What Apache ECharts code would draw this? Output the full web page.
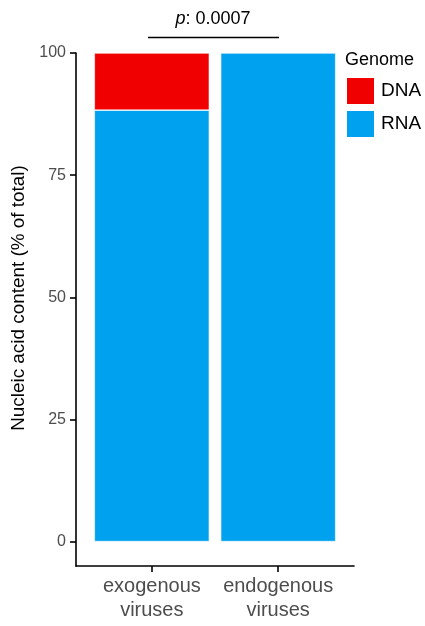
<!DOCTYPE html>
<html>
<head>
<meta charset="utf-8">
<script src="https://cdn.jsdelivr.net/npm/echarts@6/dist/echarts.min.js"></script>
<style>html,body{margin:0;padding:0;background:#fff}#c{width:425px;height:626px}</style>
</head>
<body>
<div id="c"></div>
<script>
const categories = ['exogenous\nviruses', 'endogenous\nviruses'];
const categoryPositions = [1, 2];
const rnaValues = [88.3, 100];
const dnaValues = [11.7, 0];
const yTicks = [0, 25, 50, 75, 100];
const pLabel = '0.0007';

const chart = echarts.init(document.getElementById('c'), null, {renderer: 'canvas'});
const FONT = '"Liberation Sans", Arial, Helvetica, sans-serif';

function seriesFor(name, values, color) {
  return {
    name: name, type: 'bar', stack: 'g', barWidth: 115,
    dimensions: ['value', 'pos'],
    encode: {x: 'pos', y: 'value'},
    itemStyle: {color: color, borderColor: '#fff', borderWidth: 0.6},
    data: categoryPositions.map((x, i) => [values[i], x])
  };
}

chart.setOption({
  animation: false,
  backgroundColor: '#fff',
  textStyle: {fontFamily: FONT},
  grid: {left: 76, right: 71, top: 53, bottom: 60},
  legend: {
    orient: 'vertical', left: 345, top: 76, padding: 0,
    data: ['DNA', 'RNA'], itemWidth: 29, itemHeight: 28, itemGap: 3,
    icon: 'rect',
    textStyle: {fontSize: 19, color: '#000', fontFamily: FONT, padding: [0, 0, 0, 1]}
  },
  title: {
    text: 'Genome', left: 345, top: 51, padding: 0,
    textStyle: {fontSize: 18, fontWeight: 'normal', color: '#000', fontFamily: FONT}
  },
  xAxis: {
    type: 'value', min: 0.4, max: 2.6,
    splitLine: {show: false},
    axisLine: {show: true, onZero: false, lineStyle: {color: '#000', width: 1.6}},
    axisTick: {show: true, customValues: categoryPositions, length: 6, lineStyle: {color: '#000', width: 1.6}},
    axisLabel: {
      customValues: categoryPositions,
      formatter: v => categories[Math.round(v) - 1] || '',
      fontSize: 20, color: '#4D4D4D', lineHeight: 24, margin: 8, fontFamily: FONT
    }
  },
  yAxis: {
    type: 'value', min: -5, max: 100,
    name: 'Nucleic acid content (% of total)',
    nameLocation: 'middle', nameGap: 42,
    nameTextStyle: {fontSize: 18.9, color: '#000', fontFamily: FONT, padding: [0, 0, 0, 23]},
    splitLine: {show: false},
    axisLine: {show: true, onZero: false, lineStyle: {color: '#000', width: 1.6}},
    axisTick: {show: true, customValues: yTicks, length: 6, lineStyle: {color: '#000', width: 1.6}},
    axisLabel: {customValues: yTicks, fontSize: 16, color: '#4D4D4D', margin: 10, fontFamily: FONT}
  },
  series: [
    seriesFor('RNA', rnaValues, '#00A1EE'),
    seriesFor('DNA', dnaValues, '#F00000')
  ],
  graphic: [
    {type: 'line', shape: {x1: 148, y1: 37.5, x2: 279, y2: 37.5}, style: {stroke: '#000', lineWidth: 1.6}},
    {type: 'text', x: 213, y: 19, style: {
      text: '{i|p}: ' + pLabel, align: 'center', verticalAlign: 'middle',
      font: '18px ' + FONT, fill: '#000',
      rich: {i: {fontStyle: 'italic', fontSize: 18, fontFamily: FONT, fill: '#000'}}
    }}
  ]
});
</script>
</body>
</html>
